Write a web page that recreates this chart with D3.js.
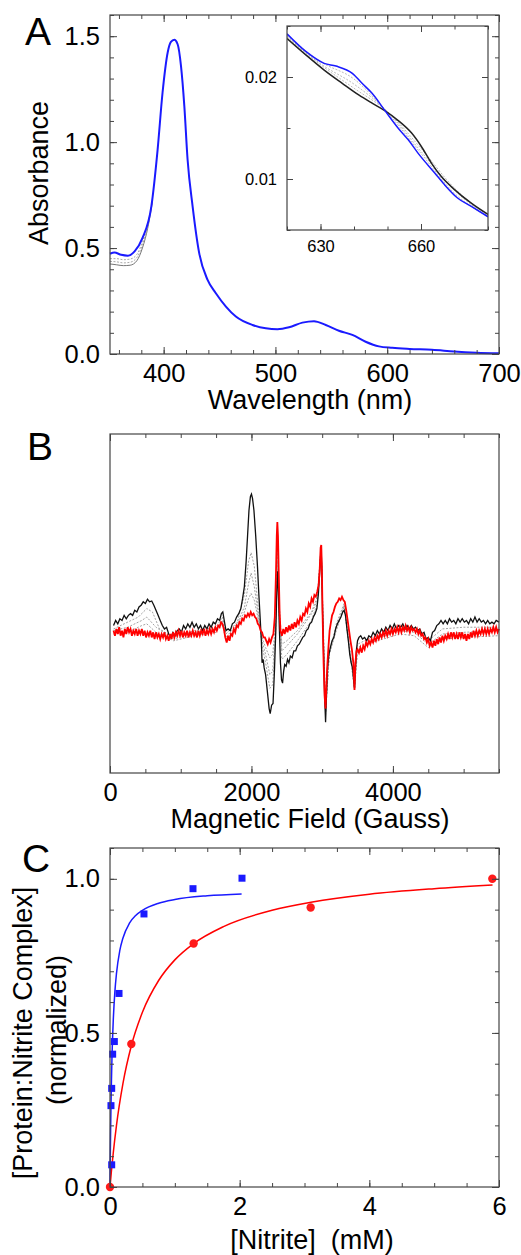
<!DOCTYPE html>
<html>
<head>
<meta charset="utf-8">
<script src="https://cdn.jsdelivr.net/npm/d3@7"></script>
<style>
  body { margin: 0; background: #fff; }
  svg { display: block; font-family: "Liberation Sans", Arial, sans-serif; }
</style>
</head>
<body>
<script>
// ---------- Panel A: UV-vis spectra (wavelength nm, absorbance) ----------
const absBlue = [
  [352, 0.473], [356, 0.479], [362, 0.468], [368, 0.464], [374, 0.484], [381, 0.547],
  [389, 0.697], [394.6, 0.965], [399, 1.233], [403.6, 1.423], [406.5, 1.473], [409.5, 1.483],
  [412.5, 1.462], [415.5, 1.36], [418.5, 1.17], [421.4, 0.918], [425.9, 0.697], [431.8, 0.476],
  [439.3, 0.35], [446.7, 0.287], [455.7, 0.224], [464.6, 0.177], [479.5, 0.137], [491.4, 0.121],
  [501.8, 0.117], [512.2, 0.126], [524.1, 0.148], [534.5, 0.155], [545, 0.137], [556.8, 0.110],
  [568.8, 0.090], [580.7, 0.058], [592.6, 0.036], [604.5, 0.029], [620, 0.024], [640, 0.020],
  [660, 0.012], [680, 0.0064], [700, 0.003]
];
const absGrays = [
  [[352, 0.425], [358, 0.421], [364, 0.417], [370, 0.419], [376, 0.44], [381, 0.50], [386, 0.60], [390, 0.72]],
  [[352, 0.437], [358, 0.435], [364, 0.430], [370, 0.433], [376, 0.455], [381, 0.515], [386, 0.61], [390, 0.72]],
  [[352, 0.450], [358, 0.450], [364, 0.445], [370, 0.448], [376, 0.47], [381, 0.53], [386, 0.62], [390, 0.72]]
];
const absXMajor = [400, 500, 600, 700];
const absYMajor = [0, 0.5, 1.0, 1.5];

// inset
const insetBlue = [
  [620, 0.02423], [625.7, 0.02248], [631.1, 0.02134], [634.6, 0.02107], [639.5, 0.02036],
  [642.4, 0.01938], [645.4, 0.0184], [649.3, 0.01668], [653.2, 0.01498], [656.2, 0.01384],
  [659.1, 0.01254], [664.1, 0.01059], [667, 0.00945], [670.9, 0.00814], [674.9, 0.00733], [680, 0.00630]
];
const insetBlack = [
  [620, 0.02378], [625.7, 0.02215], [631.1, 0.02068], [636.5, 0.01938], [641.4, 0.01824],
  [645.4, 0.01743], [649.3, 0.01668], [653.2, 0.01573], [657.2, 0.0145], [660.1, 0.01319],
  [663.1, 0.01156], [666, 0.01026], [670, 0.00896], [674.9, 0.00765], [680, 0.00652]
];
const insetGrays = [
  [[620, 0.0239], [630, 0.0212], [640, 0.0189], [650, 0.0166], [660, 0.0130], [670, 0.0091], [680, 0.0064]],
  [[620, 0.0240], [630, 0.0213], [640, 0.0193], [650, 0.0166], [660, 0.0127], [670, 0.0089], [680, 0.0063]],
  [[620, 0.0241], [630, 0.0215], [640, 0.0198], [650, 0.0165], [660, 0.0125], [670, 0.0086], [680, 0.0063]]
];
const insetXMajor = [630, 660];
const insetYMajor = [0.01, 0.02];

// ---------- Panel B: EPR spectra (field G, arbitrary units) ----------
const eprBlack = [
  [50,-0.13],[80,-0.10],[110,-0.12],[140,-0.09],[170,-0.10],[200,-0.07],[230,-0.09],[260,-0.07],[290,-0.06],[320,-0.07],
  [350,-0.04],[380,-0.05],[410,-0.02],[440,-0.01],[470,0.01],[500,0.00],[530,0.025],[560,0.01],[590,0.015],[620,-0.01],
  [650,-0.04],[680,-0.07],[710,-0.10],[740,-0.13],[770,-0.15],[800,-0.14],[830,-0.18],[860,-0.20],[890,-0.17],[920,-0.19],
  [950,-0.16],[980,-0.15],[1010,-0.17],[1040,-0.13],[1070,-0.15],[1100,-0.12],[1130,-0.14],[1160,-0.11],[1190,-0.14],[1220,-0.12],
  [1250,-0.15],[1280,-0.13],[1310,-0.16],[1340,-0.13],[1370,-0.15],[1400,-0.12],[1430,-0.14],[1460,-0.11],[1490,-0.12],[1520,-0.09],
  [1550,-0.10],[1575,-0.06],[1595,-0.05],[1615,-0.10],[1640,-0.16],[1670,-0.15],[1700,-0.16],[1730,-0.12],[1760,-0.11],[1790,-0.08],
  [1820,-0.06],[1850,-0.03],[1875,0.03],[1900,0.10],[1925,0.25],[1945,0.40],[1965,0.55],[1985,0.63],[2000,0.645],[2015,0.62],
  [2035,0.55],[2060,0.40],[2085,0.22],[2105,0.05],[2125,-0.10],[2140,-0.22],[2150,-0.35],[2165,-0.33],[2180,-0.38],[2200,-0.42],
  [2225,-0.52],[2250,-0.62],[2265,-0.65],[2285,-0.60],[2305,-0.59],[2325,-0.40],[2345,-0.15],[2360,0.10],[2370,0.19],[2382,0.05],
  [2395,-0.15],[2410,-0.35],[2425,-0.45],[2440,-0.47],[2455,-0.40],[2470,-0.36],[2490,-0.37],[2510,-0.33],[2530,-0.35],[2550,-0.31],
  [2575,-0.32],[2600,-0.28],[2625,-0.28],[2650,-0.25],[2675,-0.24],[2700,-0.22],[2725,-0.20],[2750,-0.19],[2775,-0.16],[2800,-0.15],
  [2825,-0.12],[2850,-0.11],[2875,-0.08],[2900,-0.06],[2925,-0.03],[2945,0.05],[2960,0.15],[2975,0.26],[2985,0.32],[2995,0.20],
  [3005,-0.05],[3020,-0.30],[3035,-0.55],[3048,-0.70],[3060,-0.55],[3075,-0.38],[3095,-0.30],[3115,-0.26],[3140,-0.22],[3165,-0.20],
  [3190,-0.15],[3215,-0.12],[3240,-0.10],[3265,-0.08],[3290,-0.05],[3310,-0.04],[3330,-0.07],[3350,-0.15],[3370,-0.22],[3390,-0.30],
  [3410,-0.35],[3430,-0.38],[3445,-0.45],[3457,-0.50],[3470,-0.38],[3485,-0.27],[3500,-0.22],[3520,-0.20],[3545,-0.19],[3570,-0.21],
  [3600,-0.20],[3630,-0.22],[3660,-0.19],[3690,-0.20],[3720,-0.17],[3750,-0.19],[3780,-0.16],[3810,-0.18],[3840,-0.15],[3870,-0.17],
  [3900,-0.14],[3930,-0.16],[3960,-0.13],[3990,-0.15],[4020,-0.12],[4050,-0.15],[4080,-0.13],[4110,-0.14],[4140,-0.12],[4170,-0.15],
  [4200,-0.13],[4230,-0.15],[4260,-0.13],[4290,-0.15],[4320,-0.14],[4350,-0.16],[4380,-0.15],[4410,-0.18],[4440,-0.17],[4470,-0.21],
  [4500,-0.20],[4530,-0.22],[4560,-0.17],[4590,-0.16],[4620,-0.13],[4650,-0.12],[4680,-0.10],[4710,-0.12],[4740,-0.10],[4770,-0.12],
  [4800,-0.09],[4830,-0.11],[4860,-0.10],[4890,-0.12],[4920,-0.09],[4950,-0.11],[4980,-0.09],[5010,-0.11],[5040,-0.10],[5070,-0.12],
  [5100,-0.09],[5130,-0.11],[5160,-0.08],[5190,-0.11],[5220,-0.09],[5250,-0.11],[5280,-0.10],[5310,-0.12],[5340,-0.10],[5370,-0.12],
  [5400,-0.11],[5430,-0.12],[5460,-0.10],[5500,-0.11]
];
const eprRed = [
  [50,-0.16],[70,-0.19],[90,-0.15],[110,-0.18],[130,-0.14],[150,-0.19],[170,-0.16],[190,-0.20],[210,-0.15],[230,-0.18],
  [250,-0.14],[270,-0.17],[290,-0.15],[310,-0.19],[330,-0.16],[350,-0.18],[370,-0.15],[390,-0.19],[410,-0.16],[430,-0.18],
  [450,-0.15],[470,-0.19],[490,-0.16],[510,-0.20],[530,-0.17],[550,-0.19],[570,-0.16],[590,-0.20],[610,-0.17],[630,-0.21],
  [650,-0.17],[670,-0.20],[690,-0.18],[710,-0.21],[730,-0.18],[750,-0.20],[770,-0.17],[790,-0.21],[810,-0.19],[830,-0.22],
  [850,-0.18],[870,-0.21],[890,-0.17],[910,-0.20],[930,-0.17],[950,-0.19],[970,-0.16],[990,-0.19],[1010,-0.16],[1030,-0.20],
  [1050,-0.17],[1070,-0.19],[1090,-0.16],[1110,-0.20],[1130,-0.17],[1150,-0.19],[1170,-0.16],[1190,-0.19],[1210,-0.17],[1230,-0.20],
  [1250,-0.16],[1270,-0.19],[1290,-0.16],[1310,-0.18],[1330,-0.15],[1350,-0.19],[1370,-0.16],[1390,-0.18],[1410,-0.15],[1430,-0.18],
  [1450,-0.15],[1470,-0.17],[1490,-0.14],[1510,-0.16],[1530,-0.13],[1550,-0.14],[1570,-0.11],[1590,-0.12],[1610,-0.15],[1630,-0.20],
  [1650,-0.23],[1670,-0.19],[1690,-0.22],[1710,-0.18],[1730,-0.19],[1750,-0.15],[1770,-0.17],[1790,-0.13],[1810,-0.14],[1830,-0.11],
  [1850,-0.12],[1870,-0.09],[1890,-0.10],[1910,-0.07],[1930,-0.08],[1950,-0.06],[1970,-0.075],[1990,-0.05],[2010,-0.07],[2030,-0.06],
  [2050,-0.08],[2070,-0.09],[2090,-0.12],[2110,-0.13],[2130,-0.16],[2150,-0.17],[2170,-0.20],[2190,-0.20],[2210,-0.22],[2230,-0.24],
  [2250,-0.21],[2270,-0.23],[2290,-0.20],[2310,-0.18],[2330,-0.08],[2345,0.15],[2358,0.40],[2366,0.48],[2375,0.40],[2385,0.20],
  [2398,-0.05],[2410,-0.16],[2430,-0.19],[2450,-0.15],[2470,-0.18],[2490,-0.14],[2510,-0.17],[2530,-0.13],[2550,-0.16],[2570,-0.12],
  [2590,-0.15],[2610,-0.11],[2630,-0.14],[2650,-0.10],[2670,-0.12],[2690,-0.08],[2710,-0.10],[2730,-0.06],[2750,-0.07],[2770,-0.03],
  [2790,-0.05],[2810,0.00],[2830,-0.02],[2850,0.03],[2870,0.01],[2890,0.05],[2910,0.04],[2930,0.07],[2950,0.11],[2965,0.20],
  [2978,0.33],[2987,0.345],[2995,0.22],[3005,-0.05],[3020,-0.35],[3035,-0.55],[3048,-0.62],[3060,-0.48],[3075,-0.35],[3090,-0.25],
  [3105,-0.16],[3120,-0.12],[3140,-0.07],[3160,-0.05],[3180,-0.02],[3200,0.00],[3220,0.01],[3240,0.03],[3260,0.02],[3280,0.04],
  [3300,0.02],[3320,0.01],[3340,-0.04],[3360,-0.10],[3380,-0.16],[3400,-0.22],[3420,-0.27],[3440,-0.35],[3457,-0.51],[3470,-0.35],
  [3485,-0.28],[3500,-0.27],[3520,-0.29],[3540,-0.26],[3560,-0.29],[3580,-0.25],[3600,-0.27],[3620,-0.23],[3640,-0.25],[3660,-0.22],
  [3680,-0.24],[3700,-0.21],[3720,-0.23],[3740,-0.20],[3760,-0.22],[3780,-0.19],[3800,-0.21],[3820,-0.18],[3840,-0.20],[3860,-0.17],
  [3880,-0.19],[3900,-0.16],[3920,-0.19],[3940,-0.16],[3960,-0.18],[3980,-0.15],[4000,-0.18],[4020,-0.15],[4040,-0.17],[4060,-0.14],
  [4080,-0.17],[4100,-0.14],[4120,-0.17],[4140,-0.14],[4160,-0.16],[4180,-0.13],[4200,-0.16],[4220,-0.14],[4240,-0.17],[4260,-0.14],
  [4280,-0.16],[4300,-0.15],[4320,-0.17],[4340,-0.15],[4360,-0.18],[4380,-0.16],[4400,-0.19],[4420,-0.18],[4440,-0.21],[4460,-0.20],
  [4480,-0.23],[4500,-0.21],[4520,-0.25],[4540,-0.23],[4560,-0.26],[4580,-0.22],[4600,-0.25],[4620,-0.21],[4640,-0.24],[4660,-0.20],
  [4680,-0.23],[4700,-0.19],[4720,-0.22],[4740,-0.19],[4760,-0.21],[4780,-0.18],[4800,-0.21],[4820,-0.17],[4840,-0.20],[4860,-0.17],
  [4880,-0.21],[4900,-0.18],[4920,-0.21],[4940,-0.17],[4960,-0.20],[4980,-0.17],[5000,-0.21],[5020,-0.18],[5040,-0.22],[5060,-0.18],
  [5080,-0.21],[5100,-0.17],[5120,-0.20],[5140,-0.16],[5160,-0.19],[5180,-0.16],[5200,-0.19],[5220,-0.16],[5240,-0.18],[5260,-0.15],
  [5280,-0.18],[5300,-0.15],[5320,-0.18],[5340,-0.15],[5360,-0.18],[5380,-0.15],[5400,-0.17],[5420,-0.14],[5440,-0.17],[5460,-0.14],
  [5480,-0.17],[5500,-0.15]
];
const eprGrays = [
  [[50,-0.15],[250,-0.11],[400,-0.08],[520,-0.03],[600,-0.05],[700,-0.15],[900,-0.20],[1200,-0.16],[1500,-0.14],[1590,-0.08],
   [1640,-0.18],[1800,-0.11],[1900,0.05],[1960,0.25],[1995,0.30],[2040,0.22],[2100,-0.05],[2150,-0.25],[2200,-0.35],[2260,-0.50],
   [2300,-0.48],[2340,-0.20],[2368,0.25],[2395,-0.10],[2430,-0.33],[2500,-0.30],[2650,-0.22],[2850,-0.10],[2930,0.00],[2985,0.33],
   [3048,-0.66],[3100,-0.30],[3200,-0.16],[3310,-0.02],[3457,-0.50],[3500,-0.24],[3700,-0.20],[4100,-0.15],[4300,-0.16],[4500,-0.22],
   [4700,-0.15],[5000,-0.14],[5500,-0.14]],
  [[50,-0.16],[250,-0.14],[450,-0.10],[520,-0.08],[650,-0.14],[900,-0.21],[1200,-0.17],[1500,-0.15],[1590,-0.10],[1640,-0.20],
   [1800,-0.12],[1900,-0.02],[1960,0.12],[1995,0.18],[2040,0.10],[2100,-0.08],[2150,-0.22],[2200,-0.30],[2260,-0.42],[2300,-0.40],
   [2340,-0.15],[2368,0.32],[2395,-0.05],[2430,-0.28],[2500,-0.25],[2650,-0.18],[2850,-0.06],[2930,0.02],[2985,0.33],[3048,-0.64],
   [3100,-0.30],[3200,-0.14],[3310,-0.01],[3457,-0.50],[3500,-0.26],[3700,-0.22],[4100,-0.16],[4300,-0.17],[4500,-0.24],[4700,-0.18],
   [5000,-0.17],[5500,-0.16]],
  [[50,-0.18],[250,-0.17],[450,-0.13],[520,-0.12],[650,-0.17],[900,-0.22],[1200,-0.19],[1500,-0.17],[1590,-0.12],[1640,-0.22],
   [1800,-0.13],[1900,-0.05],[1960,0.03],[1995,0.06],[2040,0.02],[2100,-0.10],[2150,-0.20],[2200,-0.26],[2260,-0.32],[2300,-0.30],
   [2340,-0.12],[2368,0.40],[2395,-0.02],[2430,-0.24],[2500,-0.22],[2650,-0.16],[2850,-0.05],[2930,0.04],[2985,0.34],[3048,-0.63],
   [3100,-0.30],[3200,-0.12],[3310,0.00],[3457,-0.51],[3500,-0.28],[3700,-0.23],[4100,-0.18],[4300,-0.19],[4500,-0.26],[4700,-0.21],
   [5000,-0.20],[5500,-0.19]]
];
const eprXMajor = [0, 2000, 4000];

// ---------- Panel C: titration (nitrite mM, normalized complex) ----------
const blueConc = [0.026, 0.015, 0.026, 0.041, 0.067, 0.139, 0.524, 1.28, 2.036];
const blueFrac = [0.072, 0.264, 0.32, 0.431, 0.472, 0.628, 0.886, 0.968, 1.002];
const redConc = [0.0, 0.329, 1.29, 3.095, 5.897];
const redFrac = [0.0, 0.464, 0.79, 0.907, 1.0];
const blueFit = [[0,0],[0.005,0.108],[0.01,0.194],[0.02,0.323],[0.03,0.416],[0.05,0.539],[0.075,0.633],[0.1,0.693],
  [0.15,0.766],[0.2,0.808],[0.3,0.856],[0.4,0.882],[0.5,0.898],[0.75,0.921],[1.0,0.933],[1.5,0.945],[2.03,0.951]];
const redFit = [[0,0],[0.02,0.047],[0.05,0.110],[0.1,0.200],[0.2,0.336],[0.33,0.459],[0.5,0.567],[0.75,0.670],[1.0,0.737],
  [1.29,0.790],[1.75,0.845],[2.5,0.898],[3.1,0.924],[4,0.950],[5,0.968],[5.9,0.980]];
const titXMajor = [0, 2, 4, 6];
const titYMajor = [0, 0.5, 1.0];

// ---------- drawing ----------
const W = 521, H = 1255;
const svg = d3.select("body").append("svg").attr("width", W).attr("height", H);
const frameColor = "#444";

function ticksAll(g, x, y, o) {
  const [xl, xr] = x.range(), [yb, yt] = y.range();
  const sides = [];
  if (o.xMajor) {
    sides.push([d3.axisBottom, x, yb, o.xMajor, o.xMinor, true, "x"]);
    sides.push([d3.axisTop, x, yt, o.xMajor, o.xMinor, false, "x"]);
  }
  if (o.yMajor) {
    sides.push([d3.axisLeft, y, xl, o.yMajor, o.yMinor, true, "y"]);
    sides.push([d3.axisRight, y, xr, o.yMajor, o.yMinor, false, "y"]);
  }
  sides.forEach(([ax, sc, pos, major, minor, labels, dim]) => {
    const tr = dim === "x" ? `translate(0,${pos})` : `translate(${pos},0)`;
    const gm = g.append("g").attr("transform", tr)
      .call(ax(sc).tickValues(minor).tickSize(-o.minorLen).tickFormat(""));
    gm.select(".domain").remove();
    const gM = g.append("g").attr("transform", tr)
      .call(ax(sc).tickValues(major).tickSize(-o.majorLen).tickPadding(o.pad)
        .tickFormat(labels ? o.fmt[dim] : ""));
    gM.select(".domain").remove();
    [gm, gM].forEach(a => a.selectAll("line").attr("stroke", frameColor).attr("stroke-width", 1));
    gM.selectAll("text").attr("font-size", o.fontSize).attr("fill", "#000")
      .attr("font-family", "Liberation Sans, Arial, sans-serif");
  });
  g.append("rect").attr("x", xl).attr("y", yt).attr("width", xr - xl).attr("height", yb - yt)
    .attr("fill", "none").attr("stroke", frameColor).attr("stroke-width", 1.2);
}

function label(txt, x, y, size, rotate) {
  const t = svg.append("text").attr("font-size", size).attr("fill", "#000")
    .attr("text-anchor", "middle").text(txt);
  if (rotate) t.attr("transform", `translate(${x},${y}) rotate(-90)`);
  else t.attr("x", x).attr("y", y);
  return t;
}
function panelLetter(txt, x, y) {
  svg.append("text").attr("x", x).attr("y", y).attr("font-size", 39).attr("fill", "#000").text(txt);
}

// Panel A
const xA = d3.scaleLinear().domain([352, 700]).range([110, 499]);
const yA = d3.scaleLinear().domain([0, 1.6]).range([354, 15]);
const gA = svg.append("g");
const lineA = d3.line().x(d => xA(d[0])).y(d => yA(d[1])).curve(d3.curveMonotoneX);
absGrays.forEach((s, i) => {
  gA.append("path").datum(s).attr("d", lineA).attr("fill", "none")
    .attr("stroke", i === 0 ? "#777" : "#aaa").attr("stroke-width", 1)
    .attr("stroke-dasharray", i === 0 ? null : "2,1.5");
});
gA.append("path").datum(absBlue).attr("d", lineA).attr("fill", "none")
  .attr("stroke", "#1a1aff").attr("stroke-width", 2);
ticksAll(gA, xA, yA, {
  xMajor: absXMajor, xMinor: d3.range(360, 701, 20),
  yMajor: absYMajor, yMinor: d3.range(0, 1.61, 0.1),
  majorLen: 7, minorLen: 4, pad: 10, fontSize: 25.5,
  fmt: { x: d3.format("d"), y: d3.format(".1f") }
});

// inset
const xI = d3.scaleLinear().domain([620, 680]).range([287, 488]);
const yI = d3.scaleLinear().domain([0.005, 0.025]).range([230, 26]);
const gI = svg.append("g");
gI.append("rect").attr("x", 287).attr("y", 26).attr("width", 201).attr("height", 204).attr("fill", "#fff");
svg.append("clipPath").attr("id", "clipI").append("rect")
  .attr("x", 287).attr("y", 26).attr("width", 201).attr("height", 204);
const lineI = d3.line().x(d => xI(d[0])).y(d => yI(d[1])).curve(d3.curveMonotoneX);
const gIc = gI.append("g").attr("clip-path", "url(#clipI)");
insetGrays.forEach(s => {
  gIc.append("path").datum(s).attr("d", lineI).attr("fill", "none")
    .attr("stroke", "#aaa").attr("stroke-width", 0.8).attr("stroke-dasharray", "2,1.5");
});
gIc.append("path").datum(insetBlack).attr("d", lineI).attr("fill", "none")
  .attr("stroke", "#222").attr("stroke-width", 1.5);
gIc.append("path").datum(insetBlue).attr("d", lineI).attr("fill", "none")
  .attr("stroke", "#1a1aff").attr("stroke-width", 1.5);
ticksAll(gI, xI, yI, {
  xMajor: insetXMajor, xMinor: d3.range(620, 681, 10),
  yMajor: insetYMajor, yMinor: [0.005, 0.015, 0.025],
  majorLen: 6, minorLen: 3.5, pad: 10, fontSize: 16.5,
  fmt: { x: d3.format("d"), y: d3.format(".2f") }
});

panelLetter("A", 25, 45);
label("Wavelength (nm)", 310, 409, 27);
label("Absorbance", 48, 173, 27, true);

// Panel B
const xB = d3.scaleLinear().domain([0, 5500]).range([110, 499]);
const yB = d3.scaleLinear().domain([-1, 1]).range([773, 434]);
const gB = svg.append("g");
const lineB = d3.line().x(d => xB(d[0])).y(d => yB(d[1]));
eprGrays.forEach(s => {
  gB.append("path").datum(s).attr("d", lineB).attr("fill", "none")
    .attr("stroke", "#999").attr("stroke-width", 0.9).attr("stroke-dasharray", "2,1.5");
});
gB.append("path").datum(eprBlack).attr("d", lineB).attr("fill", "none")
  .attr("stroke", "#111").attr("stroke-width", 1.3);
gB.append("path").datum(eprRed).attr("d", lineB).attr("fill", "none")
  .attr("stroke", "#ff0000").attr("stroke-width", 1.8);
ticksAll(gB, xB, yB, {
  xMajor: eprXMajor, xMinor: d3.range(0, 5501, 500),
  majorLen: 7, minorLen: 4, pad: 9.5, fontSize: 25.5,
  fmt: { x: d3.format("d") }
});
panelLetter("B", 27, 460);
label("Magnetic Field (Gauss)", 310, 828, 27);

// Panel C
const xC = d3.scaleLinear().domain([0, 6]).range([110, 499]);
const yC = d3.scaleLinear().domain([0, 1.1]).range([1187, 848]);
const gC = svg.append("g");
const lineC = d3.line().x(d => xC(d[0])).y(d => yC(d[1])).curve(d3.curveMonotoneX);
gC.append("path").datum(blueFit).attr("d", lineC).attr("fill", "none")
  .attr("stroke", "#1a1aff").attr("stroke-width", 1.5);
gC.append("path").datum(redFit).attr("d", lineC).attr("fill", "none")
  .attr("stroke", "#ff0000").attr("stroke-width", 1.5);
gC.selectAll(".sq").data(blueConc).enter().append("rect").attr("class", "sq")
  .attr("x", d => xC(d) - 3.5).attr("y", (d, i) => yC(blueFrac[i]) - 3.5)
  .attr("width", 7).attr("height", 7).attr("fill", "#1a1aff");
gC.selectAll(".ci").data(redConc).enter().append("circle").attr("class", "ci")
  .attr("cx", d => xC(d)).attr("cy", (d, i) => yC(redFrac[i])).attr("r", 4.2).attr("fill", "#ff1a1a");
ticksAll(gC, xC, yC, {
  xMajor: titXMajor, xMinor: d3.range(0, 6.01, 0.5),
  yMajor: titYMajor, yMinor: d3.range(0, 1.101, 0.1),
  majorLen: 7, minorLen: 4, pad: 10, fontSize: 25.5,
  fmt: { x: d3.format("d"), y: d3.format(".1f") }
});
panelLetter("C", 22, 872);
label("[Nitrite]  (mM)", 312, 1249, 27).style("white-space", "pre");
label("[Protein:Nitrite Complex]", 32, 1033, 27, true);
label("(normalized)", 66, 1030, 27, true);
</script>
</body>
</html>
